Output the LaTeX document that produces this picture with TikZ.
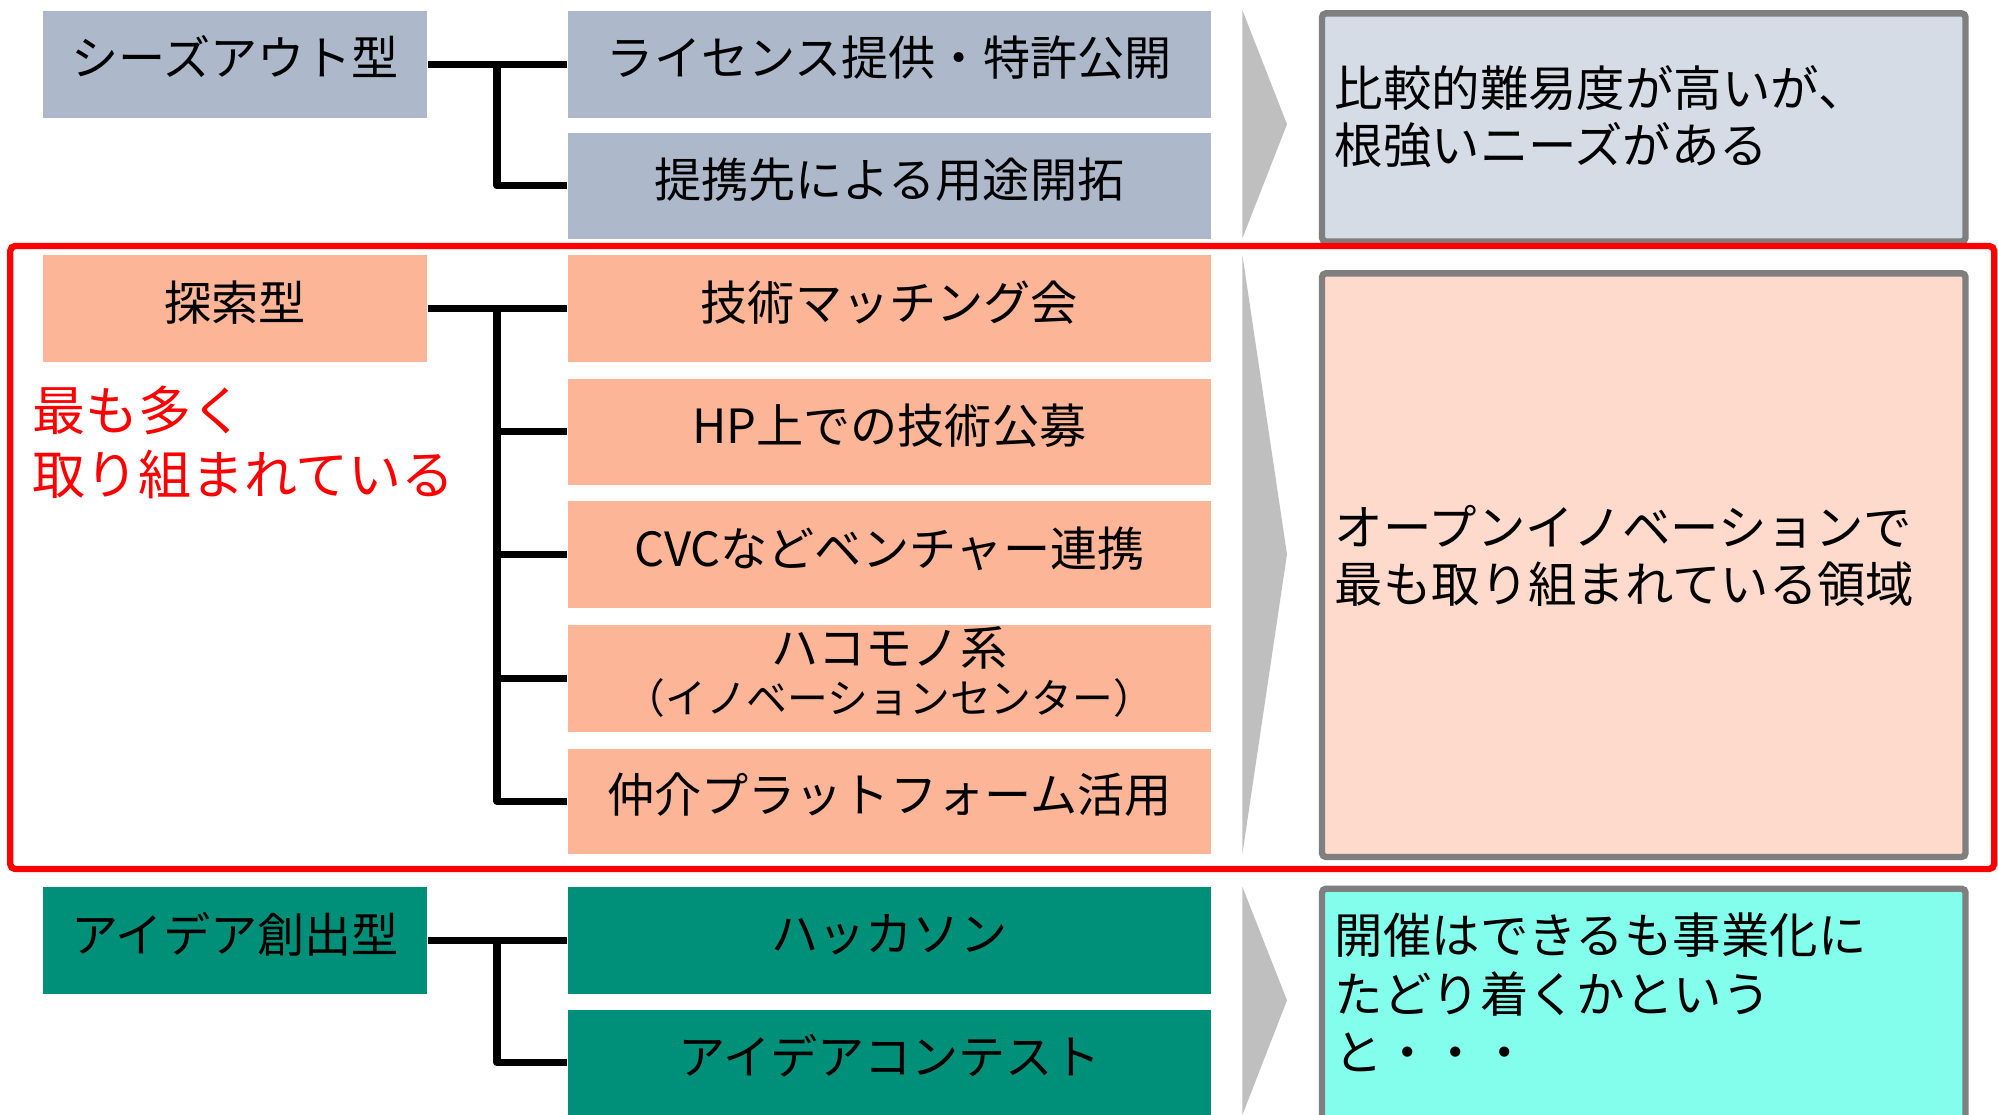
\documentclass[tikz,border=0pt]{standalone}
\usepackage{fontspec}
\setmainfont{Noto Sans CJK JP}
\newcommand\myfs[2]{\fontsize{#1pt}{#2pt}\selectfont}
\definecolor{slate}{HTML}{ADB9CA}
\definecolor{salmon}{HTML}{FCB597}
\definecolor{tealc}{HTML}{00907A}
\definecolor{rtop}{HTML}{D6DCE5}
\definecolor{rmid}{HTML}{FDDACB}
\definecolor{rbot}{HTML}{84FEEC}
\definecolor{bordergray}{HTML}{7F7F7F}
\definecolor{chevgray}{HTML}{BFBFBF}
\begin{document}
\begin{tikzpicture}[x=0.5pt,y=-0.5pt,
  lbox/.style={anchor=north west, inner sep=0pt, minimum width=151pt, minimum height=42pt, font=\myfs{18.5}{22}, align=center, text=black, execute at end node={\rule[-6.5pt]{0pt}{0pt}}},
  mbox/.style={anchor=north west, inner sep=0pt, minimum width=252.5pt, minimum height=42pt, font=\myfs{18.5}{22}, align=center, text=black, execute at end node={\rule[-6.5pt]{0pt}{0pt}}},
  rbox/.style={anchor=north west, draw=bordergray, line width=2.5pt, rounded corners=1.5pt, inner xsep=5pt, inner ysep=0pt, minimum width=252.5pt, text width=242.5pt, align=left, font=\myfs{19}{22.5}},
  conn/.style={line width=2.8pt, line join=round},
  chev/.style={fill=chevgray}]
\useasboundingbox (0,0) rectangle (1568,875);
\clip (0,0) rectangle (1568,875);
\fill[white] (0,0) rectangle (1568,875);

% left boxes
\node[lbox, fill=slate] (A) at (33,8) {シーズアウト型};
\node[lbox, fill=salmon] (B) at (33,200) {探索型};
\node[lbox, fill=tealc] (C) at (33,696) {アイデア創出型};

% middle boxes
\node[mbox, fill=slate] (m1) at (445,8) {ライセンス提供・特許公開};
\node[mbox, fill=slate, minimum height=41.5pt] (m2) at (445,104) {提携先による用途開拓};
\node[mbox, fill=salmon] (m3) at (445,200) {技術マッチング会};
\node[mbox, fill=salmon, minimum height=41.5pt] (m4) at (445,297) {HP上での技術公募};
\node[mbox, fill=salmon] (m5) at (445,393) {CVCなどベンチャー連携};
\node[mbox, fill=salmon] (m6) at (445,490) {ハコモノ系\\[-3pt]{\myfs{16}{19}（イノベーションセンター）}};
\node[mbox, fill=salmon, minimum height=41.5pt] (m7) at (445,587) {仲介プラットフォーム活用};
\node[mbox, fill=tealc] (m8) at (445,696) {ハッカソン};
\node[mbox, fill=tealc, minimum height=41.5pt] (m9) at (445,792) {アイデアコンテスト};

% connectors
\coordinate (sp) at (390,0);
\draw[conn] (A.east) -- (m1.west);
\draw[conn] (A.east -| sp) |- (m2.west);
\draw[conn] (B.east) -- (m3.west);
\draw[conn] (B.east -| sp) |- (m7.west);
\foreach \n in {m4,m5,m6} \draw[conn] (\n.west -| sp) -- (\n.west);
\draw[conn] (C.east) -- (m8.west);
\draw[conn] (C.east -| sp) |- (m9.west);

% chevrons
\fill[chev] (975,8) -- (1010,97.5) -- (975,187) -- cycle;
\fill[chev] (975,200) -- (1010,435) -- (975,670) -- cycle;
\fill[chev] (975,696) -- (1010,785) -- (975,875) -- cycle;

% right boxes
\node[rbox, fill=rtop, minimum height=89.5pt] (r1) at (1035,8) {比較的難易度が高いが、\\根強いニーズがある\rule[-10pt]{0pt}{1pt}};
\node[rbox, fill=rmid, minimum height=229pt] (r2) at (1035,212) {オープンイノベーションで\\最も取り組まれている領域\rule[-9pt]{0pt}{1pt}};
\node[rbox, fill=rbot, minimum height=95pt, font=\myfs{19}{23}] (r3) at (1035,695) {開催はできるも事業化に\\たどり着くかという\\と・・・\rule[-14pt]{0pt}{1pt}};

% highlight frame
\draw[red, line width=2.5pt, rounded corners=2pt] (8,193) rectangle (1565,682);
\node[anchor=west, inner sep=0pt, align=left, text=red, font=\myfs{20.8}{25}] (note) at (25,347) {最も多く\\取り組まれている};
\end{tikzpicture}
\end{document}
